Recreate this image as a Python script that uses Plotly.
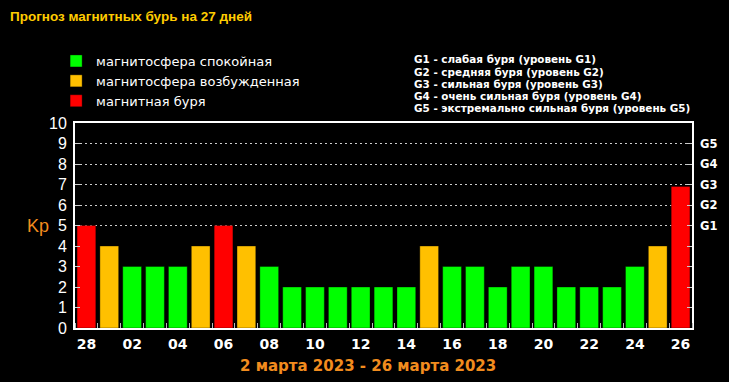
import plotly.graph_objects as go

# ---- data ----
days = ["28", "01", "02", "03", "04", "05", "06", "07", "08", "09", "10", "11", "12", "13",
        "14", "15", "16", "17", "18", "19", "20", "21", "22", "23", "24", "25", "26"]
kp = [5, 4, 3, 3, 3, 4, 5, 4, 3, 2, 2, 2, 2, 2, 2, 4, 3, 3, 2, 3, 3, 2, 2, 2, 3, 4, 6.9]
level_names = ["магнитосфера спокойная", "магнитосфера возбужденная", "магнитная буря"]
level_colors = ["#00FF00", "#FFC000", "#FF0000"]
g_ticks = [5, 6, 7, 8, 9]
g_labels = ["G1", "G2", "G3", "G4", "G5"]
g_desc = ["G1 - слабая буря (уровень G1)",
          "G2 - средняя буря (уровень G2)",
          "G3 - сильная буря (уровень G3)",
          "G4 - очень сильная буря (уровень G4)",
          "G5 - экстремально сильная буря (уровень G5)"]
title_text = "Прогноз магнитных бурь на 27 дней"
period_text = "2 марта 2023 - 26 марта 2023"


def level_of(v):
    if v >= 5:
        return 2
    if v >= 4:
        return 1
    return 0


# ---- layout helpers (pixel -> paper) ----
W, H = 729, 382
L, R, T, B = 75, 33, 123, 54
PW, PH = W - L - R, H - T - B


def px(x):
    return (x - L) / PW


def py(y):
    return (H - B - y) / PH


fig = go.Figure()
xs = list(range(len(days)))
for li in range(3):
    sel = [i for i in xs if level_of(kp[i]) == li]
    fig.add_trace(go.Bar(
        x=sel, y=[kp[i] for i in sel], width=[0.82] * len(sel),
        name=level_names[li],
        marker=dict(color=level_colors[li], line=dict(width=1, color="rgba(0,0,0,0.35)")),
        hoverinfo="skip",
        # storm bars are plotted against the G-scale axis (same 0-10 range)
        yaxis="y2" if li == 2 else "y",
    ))

annotations = [
    dict(text=title_text, x=px(8), y=py(16), xref="paper", yref="paper",
         xanchor="left", yanchor="middle", showarrow=False,
         font=dict(family="Liberation Sans", size=13.5, color="#FFCC00", weight="bold")),
    dict(text="Kp", x=px(38), y=py(226), xref="paper", yref="paper",
         xanchor="center", yanchor="middle", showarrow=False,
         font=dict(family="Liberation Sans", size=18, color="#F28C1E")),
    dict(text=period_text, x=px(370), y=py(366), xref="paper", yref="paper",
         xanchor="center", yanchor="middle", showarrow=False,
         font=dict(family="DejaVu Sans", size=15, color="#F28C1E", weight="bold")),
]
g_y = [58.5, 71, 82.7, 94.5, 106.7]
for txt, yy in zip(g_desc, g_y):
    annotations.append(dict(text=txt, x=px(414), y=py(yy + 1), xref="paper", yref="paper",
                            xanchor="left", yanchor="middle", showarrow=False,
                            font=dict(family="DejaVu Sans", size=10.4, color="white",
                                      weight="bold")))

fig.update_layout(
    width=W, height=H,
    margin=dict(l=L, r=R, t=T, b=B, pad=0),
    paper_bgcolor="black", plot_bgcolor="black",
    barmode="overlay",
    showlegend=True,
    legend=dict(x=px(56), y=py(46), xanchor="left", yanchor="top",
                bgcolor="rgba(0,0,0,0)", tracegroupgap=0, traceorder="normal",
                font=dict(family="DejaVu Sans", size=13, color="white"),
                itemclick=False, itemdoubleclick=False),
    annotations=annotations,
    xaxis=dict(
        range=[-0.5, len(days) - 0.5],
        tickmode="array", tickvals=xs[::2], ticktext=days[::2],
        ticks="", showgrid=False, zeroline=False,
        showline=True, linecolor="white", linewidth=2, mirror=True,
        tickfont=dict(family="DejaVu Sans", size=14, color="white", weight="bold"),
        ticklabelstandoff=2,
        minor=dict(tick0=-0.5, dtick=1, ticks="inside", ticklen=5,
                   tickcolor="#bbbbbb", tickwidth=1, showgrid=False),
        fixedrange=True,
    ),
    yaxis=dict(
        range=[0, 10], tickmode="array", tickvals=list(range(11)),
        ticks="inside", ticklen=5, tickcolor="#cccccc", tickwidth=1,
        showgrid=False, zeroline=False,
        showline=True, linecolor="white", linewidth=2, mirror="ticks",
        tickfont=dict(family="Liberation Sans", size=16, color="white"),
        ticklabelstandoff=3,
        fixedrange=True,
    ),
    yaxis2=dict(
        overlaying="y", side="right", anchor="x", range=[0, 10],
        tickmode="array", tickvals=g_ticks, ticktext=g_labels,
        ticks="", showline=False, zeroline=False,
        showgrid=True, gridcolor="#cccccc", griddash="1.5px,3.5px", gridwidth=1,
        tickfont=dict(family="DejaVu Sans", size=11.5, color="white", weight="bold"),
        ticklabelstandoff=7,
        fixedrange=True,
    ),
)

fig.write_html("out.html", config={"displayModeBar": False},
               post_script="document.body.style.margin='0';document.body.style.overflow='hidden';")
